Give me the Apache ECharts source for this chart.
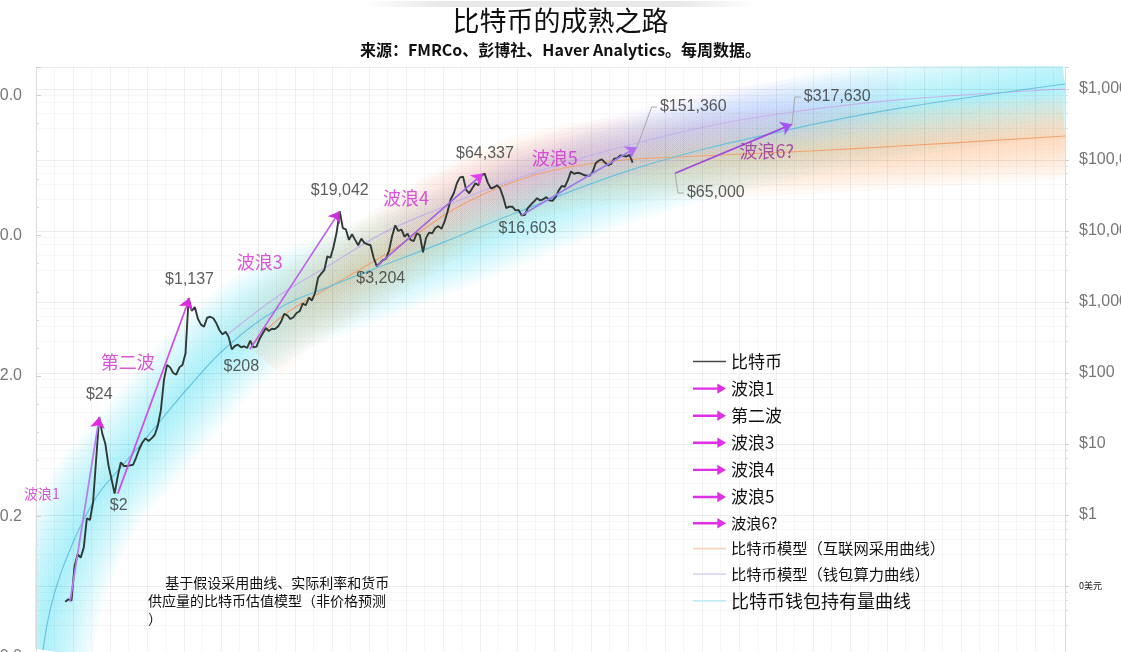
<!DOCTYPE html>
<html><head><meta charset="utf-8">
<script src="https://cdn.jsdelivr.net/npm/echarts@6/dist/echarts.min.js"></script>
<style>html,body{margin:0;padding:0;background:#fff}#c{width:1121px;height:652px}</style>
</head><body><div id="c"></div>
<script>
// ---------------- DATA ----------------
// Bitcoin monthly prices (USD), starting 2010-07
const btcStartYear = 2010, btcStartMonth = 7;
const btcPrices = [
  0.06, 0.065, 0.062, 0.19, 0.28, 0.25,
  0.35, 0.9, 0.85, 1.5, 6, 24, 14, 10, 5, 3.2, 2, 3.5,
  5.5, 4.9, 4.9, 5.0, 5.1, 6.5, 8.5, 10.5, 12, 11, 12, 13.4,
  18, 30, 80, 130, 120, 100, 95, 120, 130, 190, 1137, 750,
  850, 580, 480, 450, 600, 620, 590, 500, 400, 350, 380, 320,
  215, 240, 250, 230, 238, 225, 285, 230, 235, 300, 360, 430,
  390, 420, 415, 450, 530, 680, 650, 575, 610, 700, 740, 950,
  900, 1150, 1050, 1350, 2200, 2500, 2800, 4400, 4200, 6000, 9500, 19042,
  11000, 10500, 7500, 9000, 7500, 6300, 7800, 6800, 6500, 6300, 4200, 3204,
  3500, 3900, 4050, 5300, 8500, 12000, 10000, 10500, 8300, 9200, 7500, 7200,
  9300, 8700, 5000, 8000, 9500, 9300, 11000, 11700, 10700, 13500, 19000, 28000,
  34000, 47000, 57000, 58000, 38000, 34000, 40000, 47000, 44000, 60000, 64337, 48000,
  40000, 41000, 44000, 40000, 30000, 21000, 22000, 22000, 19500, 19800, 16603, 16800,
  21000, 23500, 26000, 29000, 27000, 28000, 30000, 27000, 26500, 30000, 37000, 43000,
  42000, 52000, 69000, 64000, 66000, 65000, 62000, 60000, 60000, 67000, 90000, 98000,
  102000, 92000, 84000, 88000, 104000, 106000, 116000, 114000, 112000, 118000, 92000
];

// Model curves (decimal year, USD)
const walletYears  = [2009.94, 2010.13, 2010.40, 2010.67, 2010.94, 2011.21, 2011.48, 2012.02, 2012.56, 2013.10, 2013.91, 2014.91, 2016.34, 2017.69, 2018.86, 2020.86, 2022.64, 2026.07, 2030.04, 2033.10, 2037.56];
const walletValues = [0.0126, 0.0457, 0.141, 0.324, 0.676, 1.26, 2.14, 4.57, 9.55, 20.9, 66.1, 234, 832, 1660, 2884, 7244, 17378, 79433, 263027, 537032, 1174898];

const hashYears  = [2014.91, 2016.34, 2017.69, 2019.13, 2020.67, 2022.10, 2023.64, 2024.99, 2026.07, 2028.23, 2030.40, 2033.10, 2037.56];
const hashValues = [343, 1259, 3311, 9333, 20893, 41687, 77625, 125893, 177828, 323594, 489779, 707946, 1000000];

const adoptYears  = [2015.53, 2016.34, 2017.69, 2018.94, 2020.13, 2021.02, 2022.29, 2023.64, 2025.34, 2027.69, 2030.67, 2033.10, 2037.56];
const adoptValues = [224, 596, 1622, 3890, 9772, 19953, 41687, 69984, 96828, 113763, 133900, 157450, 217770];

// Waves (arrows)
const waveNames      = ['波浪1', '第二波', '波浪3', '波浪4', '波浪5', '波浪6?'];
const waveStartYear  = [2010.67, 2011.96, 2015.53, 2018.96, 2022.87, 2027.02];
const waveStartValue = [0.06, 2, 215, 3204, 16603, 65000];
const waveEndYear    = [2011.46, 2013.90, 2017.96, 2021.83, 2025.99, 2030.18];
const waveEndValue   = [24, 1137, 19042, 64337, 151360, 317630];
const waveLabelYear  = [2009.91, 2012.23, 2015.80, 2019.75, 2023.77, 2029.50];
const waveLabelValue = [1.98, 143, 3656, 29170, 106700, 133900];

// Price annotations
const priceLabelText  = ['$24', '$2', '$1,137', '$208', '$19,042', '$3,204', '$64,337', '$16,603'];
const priceLabelYear  = [2011.46, 2011.96, 2013.90, 2015.30, 2017.96, 2018.96, 2021.83, 2022.87];
const priceLabelValue = [24, 2, 1137, 208, 19042, 3204, 64337, 16603];

// Callouts with leader lines
const calloutText = ['$151,360', '$317,630', '$65,000'];
const calloutPath = [
  [[2025.99, 151360], [2026.39, 557000], [2026.53, 557000]],
  [[2030.18, 317630], [2030.26, 771000], [2030.42, 771000]],
  [[2027.02, 65000], [2027.10, 34300], [2027.26, 34300]]
];

const legendNames = ['比特币', '波浪1', '第二波', '波浪3', '波浪4', '波浪5', '波浪6?',
  '比特币模型（互联网采用曲线）', '比特币模型（钱包算力曲线）', '比特币钱包持有量曲线'];

// ---------------- BUILD ----------------
const FONT = "'Liberation Sans','Noto Sans CJK SC',sans-serif";
const CJK = "'Noto Sans CJK SC','Liberation Sans',sans-serif";
const zip = (a, b) => a.map((v, i) => [v, b[i]]);
const btcData = btcPrices.map((v, i) => [btcStartYear + (btcStartMonth - 1 + i + 0.5) / 12, v]);

const arrowIcon = 'path://M0,4.6L28,4.6L28,0L38,6L28,12L28,7.4L0,7.4Z';
const lineIcon = 'path://M0,0L38,0L38,2L0,2Z';
const waveLineColors = ['#b77cf0', '#d04ce6', '#c45cee', '#9f66e0', '#9c7ce8', '#a248dc'];
const waveHeadColors = ['#e325e6', '#e028e2', '#cc2ed8', '#e040ee', '#b46ef2', '#a553f4'];

const series = [];
// soft glow bands: stacked translucent strokes with blur; fade = [start, end] fraction of bbox
function glowBand(years, values, rgb, maxW, n, alpha, blur, fade) {
  for (let k = 0; k < n; k++) {
    const w = maxW * (1 - k / n);
    const c = 'rgba(' + rgb + ',' + alpha + ')';
    const c0 = 'rgba(' + rgb + ',0)';
    const stops = [];
    if (fade[0] > 0) { stops.push({ offset: 0, color: c0 }); stops.push({ offset: fade[0], color: c }); }
    else stops.push({ offset: 0, color: c });
    if (fade[1] > 0) { stops.push({ offset: 1 - fade[1], color: c }); stops.push({ offset: 1, color: c0 }); }
    else stops.push({ offset: 1, color: c });
    series.push({
      type: 'line', data: zip(years, values), smooth: 0.4, symbol: 'none', silent: true,
      lineStyle: {
        color: new echarts.graphic.LinearGradient(0, 0, 1, 0, stops),
        width: w, shadowBlur: blur, shadowColor: c, cap: 'butt', join: 'round'
      },
      z: 1, animation: false
    });
  }
}
glowBand(walletYears, walletValues, '105,226,243', 100, 12, 0.06, 26, [0, 0]);
glowBand(adoptYears, adoptValues, '250,178,120', 86, 10, 0.06, 24, [0.12, 0]);
glowBand(hashYears.slice(3, 12), hashValues.slice(3, 12), '198,160,252', 66, 8, 0.055, 22, [0.3, 0.28]);

series.push(
  {
    type: 'line', name: '比特币模型（互联网采用曲线）', data: zip(adoptYears, adoptValues), smooth: 0.4,
    symbol: 'none', lineStyle: { color: '#f0a470', width: 1.2 }, itemStyle: { color: '#f5cfb5' }, z: 3, animation: false
  },
  {
    type: 'line', name: '比特币模型（钱包算力曲线）', data: zip(hashYears, hashValues), smooth: 0.4,
    symbol: 'none', lineStyle: { color: '#c6b4ea', width: 1.2 }, itemStyle: { color: '#dcd3f0' }, z: 3, animation: false
  },
  {
    type: 'line', name: '比特币钱包持有量曲线', data: zip(walletYears, walletValues), smooth: 0.4,
    symbol: 'none', lineStyle: { color: '#6cc4df', width: 1.2 }, itemStyle: { color: '#bfe9f3' }, z: 3, animation: false
  },
  {
    type: 'line', name: '比特币', data: btcData, symbol: 'none',
    lineStyle: { color: '#2f3a36', width: 1.9 }, itemStyle: { color: '#555' }, z: 5, animation: false
  }
);

waveNames.forEach((n, i) => {
  const coords = [[waveStartYear[i], waveStartValue[i]], [waveEndYear[i], waveEndValue[i]]];
  // shaft
  series.push({
    type: 'lines', coordinateSystem: 'cartesian2d', polyline: false, data: [{ coords: coords }],
    symbol: 'none', lineStyle: { color: waveLineColors[i], width: 1.7, opacity: 1 },
    z: 6, animation: false, silent: true
  });
  // arrow head only
  series.push({
    type: 'lines', coordinateSystem: 'cartesian2d', polyline: false, data: [{ coords: coords }],
    symbol: ['none', 'arrow'], symbolSize: 11, lineStyle: { color: waveHeadColors[i], width: 0, opacity: 1 },
    z: 7, animation: false, silent: true
  });
  // legend carrier for the wave (magenta arrow icon)
  series.push({ type: 'scatter', name: n, data: [], itemStyle: { color: '#e030e6', opacity: 1 }, silent: true });
});

// wave text labels
const waveFont = [14, 18, 18, 18, 18, 18];
series.push({
  type: 'scatter', symbolSize: 0, silent: true, z: 8, animation: false,
  data: waveNames.map((n, i) => ({
    value: [waveLabelYear[i], waveLabelValue[i]],
    label: {
      show: true, position: 'inside', formatter: n, fontSize: waveFont[i],
      color: i === 5 ? '#9a2c9c' : '#d12bd1', fontFamily: CJK
    }
  }))
});

// price labels
const pricePos = [[0, -22], [1, 12], [0, -18], [0, 16], [0, -21], [4, 13], [2, -20], [6, 13]];
series.push({
  type: 'scatter', symbolSize: 0, silent: true, z: 8, animation: false,
  data: priceLabelText.map((t, i) => ({
    value: [priceLabelYear[i], priceLabelValue[i]],
    label: { show: true, position: 'inside', offset: pricePos[i], formatter: t, fontSize: 16, color: '#333', fontFamily: FONT }
  }))
});

// callout leader lines + text
series.push({
  type: 'lines', coordinateSystem: 'cartesian2d', polyline: true, silent: true, z: 7, animation: false,
  data: calloutPath.map(p => ({ coords: p })),
  lineStyle: { color: '#a8a8a8', width: 1, opacity: 1 }
});
series.push({
  type: 'scatter', symbolSize: 0, silent: true, z: 8, animation: false,
  data: calloutText.map((t, i) => ({
    value: calloutPath[i][calloutPath[i].length - 1],
    label: { show: true, position: 'right', distance: 3, formatter: t, fontSize: 16, color: '#333', fontFamily: FONT }
  }))
});

const smallLegend = ['波浪6?', '比特币模型（互联网采用曲线）', '比特币模型（钱包算力曲线）'];
const legendIconColor = { '比特币': '#4a4a4a', '比特币模型（互联网采用曲线）': '#f6d3bd', '比特币模型（钱包算力曲线）': '#ddd6f1', '比特币钱包持有量曲线': '#c3ebf4' };

const option = {
  backgroundColor: '#ffffff',
  animation: false,
  textStyle: { fontFamily: FONT },
  title: [
    { text: '比特币的成熟之路', left: 'center', top: 2, z: 10, textStyle: { fontFamily: CJK, fontSize: 27, fontWeight: 'normal', color: '#111' } },
    { text: '来源：FMRCo、彭博社、Haver Analytics。每周数据。', left: 'center', top: 37, z: 10, textStyle: { fontFamily: CJK, fontSize: 16, fontWeight: 'bold', color: '#111' } }
  ],
  grid: { left: 36, right: 56, top: 67, bottom: -5, containLabel: false, outerBoundsMode: 'none' },
  legend: {
    orient: 'vertical', left: 688, top: 348, itemWidth: 33, itemHeight: 14, itemGap: 10.1,
    selectedMode: false, z: 10,
    data: legendNames.map((n, i) => {
      if (i >= 1 && i <= 6) return { name: n, icon: arrowIcon, itemStyle: { color: '#e030e6', opacity: 1 } };
      return { name: n, icon: lineIcon, itemStyle: { color: legendIconColor[n], opacity: 1 } };
    }),
    formatter: n => n === '比特币钱包持有量曲线' ? '{l|' + n + '}' : (smallLegend.indexOf(n) >= 0 ? '{s|' + n + '}' : '{m|' + n + '}'),
    textStyle: {
      color: '#111', fontFamily: CJK,
      rich: {
        m: { fontSize: 17, lineHeight: 16, fontFamily: CJK, color: '#111' },
        s: { fontSize: 15.3, lineHeight: 16, fontFamily: CJK, color: '#111' },
        l: { fontSize: 18, lineHeight: 16, fontFamily: CJK, color: '#111' }
      }
    }
  },
  xAxis: {
    type: 'value', min: 2009.75, max: 2037.56, interval: 1, z: 4,
    axisLine: { show: false }, axisTick: { show: false }, axisLabel: { show: false },
    splitLine: { show: true, lineStyle: { color: 'rgba(0,0,0,0.06)', width: 1 } },
    minorTick: { show: false, splitNumber: 2 },
    minorSplitLine: { show: true, lineStyle: { color: 'rgba(0,0,0,0.03)' } }
  },
  yAxis: [
    {
      type: 'log', position: 'right', min: 0.01, max: 2.04e6, logBase: 10, z: 4,
      axisLine: { show: true, lineStyle: { color: '#dcdcdc' } },
      axisTick: { show: true, length: 4, lineStyle: { color: '#cfcfcf' } },
      minorTick: { show: true, splitNumber: 5, length: 3, lineStyle: { color: '#dedede' } },
      splitLine: { show: true, lineStyle: { color: 'rgba(0,0,0,0.07)' } },
      minorSplitLine: { show: true, lineStyle: { color: 'rgba(0,0,0,0.03)' } },
      axisLabel: {
        show: true, margin: 14, color: '#777', fontSize: 16, fontFamily: FONT, showMaxLabel: false,
        formatter: v => v < 0.999 ? '{s|0美元}' : '$' + Math.round(v).toLocaleString('en-US'),
        rich: { s: { fontSize: 9, color: '#111', fontFamily: CJK } }
      }
    },
    {
      type: 'value', position: 'left', min: -1.7, max: 2.5, interval: 1, z: 4,
      axisLine: { show: true, lineStyle: { color: '#dcdcdc' } },
      axisTick: { show: true, inside: true, length: 5, lineStyle: { color: '#cfcfcf' } },
      minorTick: { show: true, splitNumber: 5, length: 3, lineStyle: { color: '#dedede' } },
      splitLine: { show: false },
      axisLabel: {
        show: true, margin: 14, color: '#777', fontSize: 16, fontFamily: FONT, showMaxLabel: false,
        formatter: v => { const p = Math.pow(10, v); return p < 1 ? p.toFixed(1) : Math.round(p).toFixed(1); }
      }
    }
  ],
  graphic: [
    // masks keeping the glow bands inside the plot area
    { type: 'rect', left: 0, top: 0, z: 2, silent: true, shape: { width: 1121, height: 66 }, style: { fill: '#fff' } },
    { type: 'rect', left: 1066, top: 0, z: 2, silent: true, shape: { width: 55, height: 652 }, style: { fill: '#fff' } },
    { type: 'rect', left: 0, top: 0, z: 2, silent: true, shape: { width: 35, height: 652 }, style: { fill: '#fff' } },
    {
      type: 'rect', left: 365, top: 1, z: 3, shape: { width: 390, height: 6 }, silent: true,
      style: {
        fill: new echarts.graphic.LinearGradient(0, 0, 1, 0, [
          { offset: 0, color: 'rgba(180,180,180,0)' }, { offset: 0.2, color: 'rgba(190,190,190,0.35)' },
          { offset: 0.8, color: 'rgba(190,190,190,0.35)' }, { offset: 1, color: 'rgba(180,180,180,0)' }
        ])
      }
    },
    {
      type: 'text', left: 148, top: 574, silent: true, z: 10,
      style: {
        text: '\u3000 基于假设采用曲线、实际利率和货币\n供应量的比特币估值模型（非价格预测\n）',
        font: "14px 'Noto Sans CJK SC'", fill: '#111', lineHeight: 18
      }
    }
  ],
  series: series
};

const chart = echarts.init(document.getElementById('c'), null, { renderer: 'canvas' });
chart.setOption(option);
</script>
</body></html>
